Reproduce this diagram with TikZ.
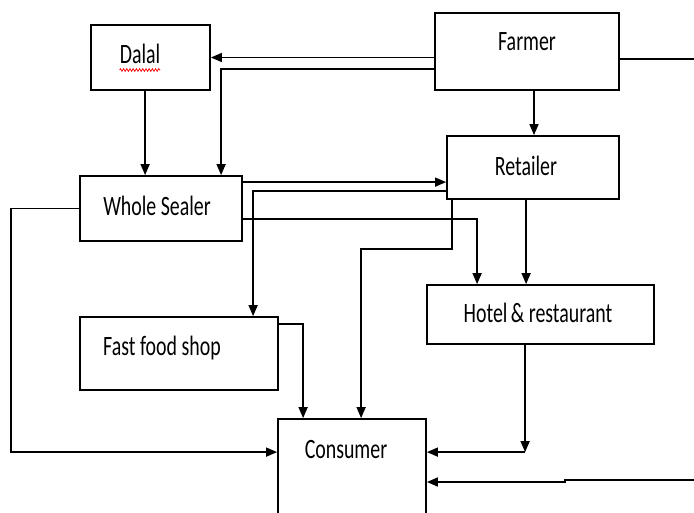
\documentclass[tikz,border=0pt]{standalone}
\usepackage{fontspec}
\setmainfont{Carlito}
\usetikzlibrary{arrows.meta,calc,decorations.pathmorphing}
\newcommand{\lbl}[1]{\scalebox{0.71}[1]{\fontsize{28}{30}\selectfont #1}}
\tikzset{
  box/.style={draw, line width=1.8pt, inner sep=0pt},
  txt/.style={anchor=base, inner sep=0pt},
  conn/.style={line width=1.6pt},
  arr/.style={conn, -{Triangle[length=11pt,width=9pt]}}
}
\begin{document}
\begin{tikzpicture}[x=1pt,y=-1pt]
\useasboundingbox (0,0) rectangle (694,512);
\clip (0,0) rectangle (694,512);
\fill[white] (0,0) rectangle (694,512);
% boxes
\node[box, minimum width=119pt, minimum height=65pt] (dalal) at (150.5,57.5) {};
\node[box, minimum width=184pt, minimum height=77pt] (farmer) at (527,51.5) {};
\node[box, minimum width=172pt, minimum height=63pt] (retailer) at (533,167.5) {};
\node[box, minimum width=162pt, minimum height=65pt] (whole) at (161,208.5) {};
\node[box, minimum width=198pt, minimum height=73pt] (fast) at (179,353.5) {};
\node[box, minimum width=227pt, minimum height=59pt] (hotel) at (540.5,314.5) {};
\node[box, minimum width=148pt, minimum height=111pt] (consumer) at (352,474.5) {};
% texts
\node[txt] (tdalal) at (140,63) {\lbl{Dalal}};
\node[txt] (tfarmer) at (527,50) {\lbl{Farmer}};
\node[txt] (tretailer) at (526,175) {\lbl{Retailer}};
\node[txt] (twhole) at (157,215) {\lbl{Whole Sealer}};
\node[txt] (tfast) at (162,355) {\lbl{Fast food shop}};
\node[txt] (thotel) at (538,322) {\lbl{Hotel\,\& restaurant}};
\node[txt] (tconsumer) at (346,458) {\lbl{Consumer}};
% spell-check squiggle
\draw[red, line width=0.7pt, decorate, decoration={zigzag, amplitude=1.4pt, segment length=3.2pt}]
  ($(tdalal.base west)+(0,7)$) -- ($(tdalal.base east)+(0,7)$);
% connectors
\draw[arr] (farmer.west |- dalal.east) -- (dalal.east);
\draw[arr] ($(farmer.west)+(0,17.5)$) -| ($(whole.north west)+(142,0)$);
\draw[arr] ($(dalal.south west)+(55,0)$) coordinate (d1) -- (d1 |- whole.north);
\coordinate (fr) at (694,59);
\draw[conn] (farmer.east |- fr) -- (fr);
\draw[arr] ($(farmer.south)+(7,0)$) coordinate (f1) -- (f1 |- retailer.north);
\draw[arr] ($(whole.north east)+(0,7)$) coordinate (w1) -- (w1 -| retailer.west);
\draw[arr] ($(retailer.north west)+(0,56)$) -| ($(fast.north west)+(174,0)$);
\draw[arr] ($(whole.north east)+(0,44)$) -| ($(hotel.north west)+(51,0)$);
\draw[arr] ($(retailer.south west)+(80,0)$) coordinate (r1) -- (r1 |- hotel.north);
\draw[arr] ($(retailer.south west)+(6,0)$) -- ++(0,49) -| ($(consumer.north west)+(84,0)$);
\draw[arr] (whole.west) -- ++(-68,0) |- ($(consumer.north west)+(0,34)$) coordinate (c1);
\draw[arr] ($(fast.north east)+(0,8)$) -| ($(consumer.north west)+(26,0)$);
\draw[arr] ($(hotel.south west)+(99,0)$) coordinate (h1) -- (h1 |- c1);
\draw[arr] (h1 |- c1) -- (consumer.east |- c1);
\coordinate (rb) at (694,480);
\draw[arr] (rb) -- ++(-129,0) -- ++(0,2) -- ($(consumer.east |- rb)+(0,2)$);
\end{tikzpicture}
\end{document}
